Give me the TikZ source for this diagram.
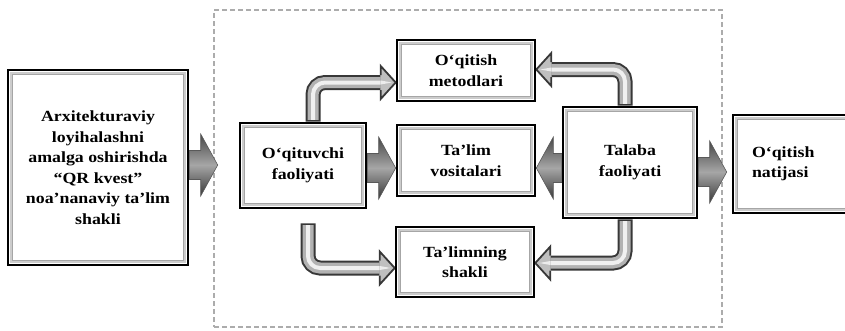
\documentclass[tikz,border=0pt]{standalone}
\usepackage{fontspec}
\setmainfont{Liberation Serif}[FakeStretch=1.15]
\usetikzlibrary{calc,backgrounds}

\tikzset{
  box/.style={draw=black, line width=2.6pt, fill=white, inner sep=0pt, align=center,
    font=\fontsize{15.5}{20.5}\selectfont\bfseries},
  dashframe/.style={draw=gray!65, line width=1.1pt, dash pattern=on 5pt off 3pt, inner sep=0pt},
  bevelA/.style={draw=gray!40, line width=2.2pt},
  bevelB/.style={draw=gray!70, line width=0.5pt},
  blockshade/.style={top color=black!72, bottom color=black!78, middle color=black!35, draw=black!65, line width=0.6pt},
  tubeout/.style={line width=15pt, draw=black!78, rounded corners=12pt},
  tubemid/.style={line width=11pt, draw=gray!60, rounded corners=12pt, shorten <=1.8pt},
  tubehi/.style={line width=4pt, draw=gray!12, rounded corners=12pt, shorten <=1.8pt},
  headline/.style={draw=black!78, line width=1.8pt, line join=miter},
}

% straight block arrow: #1 start, #2 tip, #3 direction (1 right, -1 left)
\newcommand\blockarrow[3]{%
  \path[blockshade] let \p1=#1, \p2=#2 in
    (\x1,{\y2+14.5pt}) -- ({\x2-17pt*(#3)},{\y2+14.5pt}) -- ({\x2-17pt*(#3)},{\y2+31pt})
    -- (\x2,\y2) -- ({\x2-17pt*(#3)},{\y2-31pt}) -- ({\x2-17pt*(#3)},{\y2-14.5pt})
    -- (\x1,{\y2-14.5pt}) -- cycle;
}
% bent tube arrow: #1 start, #2 tip, #3 direction of the head
\newcommand\tubearrow[3]{%
  \draw[tubeout] let \p1=#2 in #1 |- ({\x1-15pt*(#3)},\y1);
  \draw[tubemid] let \p1=#2 in #1 |- ({\x1-15pt*(#3)},\y1);
  \draw[tubehi] let \p1=#2 in #1 |- ({\x1-15pt*(#3)},\y1);
  \fill[gray!50] let \p1=#2 in
    ({\x1-15pt*(#3)},{\y1+16.5pt}) -- (\x1,\y1) -- ({\x1-15pt*(#3)},{\y1-16.5pt}) -- cycle;
  \fill[gray!15] let \p1=#2 in
    ({\x1-15pt*(#3)},{\y1+2pt}) -- ({\x1-4pt*(#3)},\y1) -- ({\x1-15pt*(#3)},{\y1-2pt}) -- cycle;
  \draw[headline] let \p1=#2 in
    ({\x1-15pt*(#3)},{\y1+7.5pt}) -- ({\x1-15pt*(#3)},{\y1+16.5pt}) -- (\x1,\y1)
    -- ({\x1-15pt*(#3)},{\y1-16.5pt}) -- ({\x1-15pt*(#3)},{\y1-7.5pt});
}

\begin{document}
\begin{tikzpicture}[x=1pt,y=-1pt]
\useasboundingbox (0,0) rectangle (845,330);
\clip (0,0) rectangle (845,330);

% boxes
\node[box, minimum width=180pt, minimum height=195pt] (lb) at (98,167.5)
  {Arxitekturaviy\\loyihalashni\\amalga oshirishda\\“QR kvest”\\noa’nanaviy ta’lim\\shakli};
\node[box, minimum width=126pt, minimum height=85pt] (oq) at (303,165.5) {O‘qituvchi\\faoliyati};
\node[box, minimum width=138pt, minimum height=61pt] (om) at (466,70.5) {O‘qitish\\metodlari};
\node[box, minimum width=138pt, minimum height=71pt] (tv) at (466,160.5) {Ta’lim\\vositalari};
\node[box, minimum width=138pt, minimum height=70pt] (ts) at (465,262) {Ta’limning\\shakli};
\node[box, minimum width=134pt, minimum height=111pt] (tf) at (630,162.5) {Talaba\\faoliyati};
\node[box, minimum height=98pt, text width=79pt, inner xsep=19pt, align=left] (on) at (791.5,164)
  {O‘qitish\\natijasi};

\foreach \n in {lb,oq,om,tv,ts,tf,on}{
  \draw[bevelA] ([shift={(4pt,-4pt)}]\n.north west) rectangle ([shift={(-4pt,4pt)}]\n.south east);
  \draw[bevelB] ([shift={(5.6pt,-5.6pt)}]\n.north west) rectangle ([shift={(-5.6pt,5.6pt)}]\n.south east);
}

\begin{pgfonlayer}{background}
  \node[dashframe, minimum width=508pt, minimum height=317pt] (fr) at (468,168.5) {};
  % straight arrows
  \blockarrow{(lb.east)}{([xshift=-21pt,yshift=0.5pt]oq.west)}{1}
  \blockarrow{(oq.east)}{([yshift=-7.5pt]tv.west)}{1}
  \blockarrow{(tf.west)}{([yshift=-7.5pt]tv.east)}{-1}
  \blockarrow{(tf.east)}{([xshift=-5pt,yshift=-8pt]on.west)}{1}
  % bent arrows
  \tubearrow{([xshift=10pt]oq.north)}{([yshift=-12pt]om.west)}{1}
  \tubearrow{([xshift=-5pt]tf.north)}{([yshift=1pt]om.east)}{-1}
  \tubearrow{([xshift=5pt,yshift=-14pt]oq.south)}{([yshift=-6pt]ts.west)}{1}
  \tubearrow{([xshift=-5pt]tf.south)}{([yshift=-1pt]ts.east)}{-1}
\end{pgfonlayer}
\end{tikzpicture}
\end{document}
